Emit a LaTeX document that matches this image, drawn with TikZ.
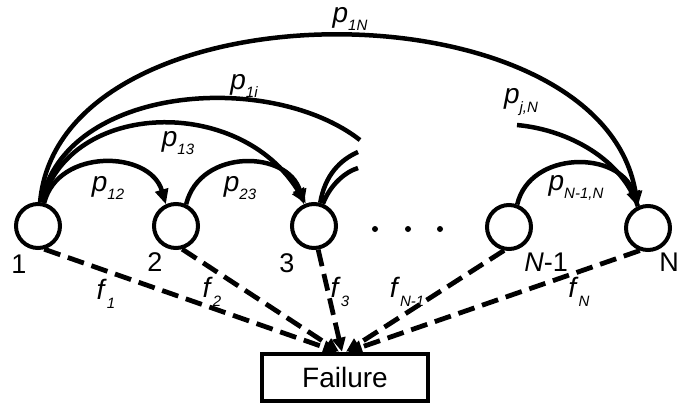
\documentclass[tikz,border=0pt]{standalone}
\usepackage{fontspec}
\setmainfont{Liberation Sans}
\usetikzlibrary{arrows.meta}
\newcommand\sublab[2]{\textit{#1}\raisebox{-0.3em}{\fontsize{15}{15}\selectfont\itshape #2}}
\begin{document}
\begin{tikzpicture}[x=1pt,y=-1pt,
  state/.style={circle,draw,line width=4pt,minimum size=44pt,inner sep=0pt},
  trans/.style={line width=4.5pt,-{Triangle[length=15pt,width=13pt]}},
  stub/.style={line width=4.5pt},
  failarrow/.style={line width=4.8pt,dash pattern=on 17pt off 8pt,-{Triangle[length=14pt,width=13pt]}},
  numlab/.style={font=\fontsize{27}{30}\selectfont,inner sep=0pt},
  plab/.style={font=\fontsize{28}{30}\selectfont,inner sep=0pt},
  failbox/.style={draw,line width=4.5pt,minimum width=166pt,minimum height=47pt,inner sep=0pt,font=\fontsize{28}{30}\selectfont},
  dot/.style={circle,fill,inner sep=0pt,minimum size=6pt}]
\useasboundingbox (0,0) rectangle (679,405);

% states
\node[state] (n1) at (38,226) {};
\node[state] (n2) at (176,226) {};
\node[state] (n3) at (314,226) {};
\node[state] (nN1) at (509,227) {};
\node[state] (nN) at (648,228) {};
\node[failbox] (fail) at (345,377.5) {Failure};

% state numbers
\node[numlab] (l1) at (19,264) {1};
\node[numlab] (l2) at (155,262) {2};
\node[numlab] (l3) at (287,263) {3};
\node[numlab] (lN1) at (546,262) {\textit{N}-1};
\node[numlab] (lN) at (669,262) {N};

% dots
\node[dot] (d1) at (375,229) {};
\node[dot] (d2) at (408,229) {};
\node[dot] (d3) at (440,229) {};

% free ends
\coordinate (e1i) at (360,140);
\coordinate (s3a) at (358,152);
\coordinate (s3b) at (358,168);
\coordinate (sjN) at (517,125);

% transitions
\draw[trans] (n1.75) .. controls (58,148) and (150,150) .. (n2.115);
\draw[trans] (n2.65) .. controls (200,148) and (288,150) .. (n3.115);
\draw[trans] (n1.80) .. controls (70,100) and (240,95) .. (n3.110);
\draw[stub] (n1.82) .. controls (65,85) and (270,70) .. (e1i);
\draw[trans] (n1.85) .. controls (60,-20) and (600,-20) .. (nN.115);
\draw[stub] (sjN) .. controls (570,130) and (622,160) .. (nN.115);
\draw[trans] (nN1.70) .. controls (530,150) and (620,150) .. (nN.115);
\draw[stub] (n3.75) .. controls (325,175) and (340,160) .. (s3a);
\draw[stub] (n3.68) .. controls (330,185) and (345,172) .. (s3b);

% failure transitions
\draw[failarrow] (n1.285) -- ([xshift=-8pt]fail.north);
\draw[failarrow] (n2.285) -- ([xshift=-6pt]fail.north);
\draw[failarrow] (n3.280) -- ([xshift=-3pt]fail.north);
\draw[failarrow] (nN1.258) -- ([xshift=1pt]fail.north);
\draw[failarrow] (nN.250) -- ([xshift=3pt]fail.north);

% labels
\node[plab] (p12) at (108,188) {\sublab{p}{12}};
\node[plab] (p23) at (240,188) {\sublab{p}{23}};
\node[plab] (p13) at (178,143) {\sublab{p}{13}};
\node[plab] (p1i) at (244,86) {\sublab{p}{1i}};
\node[plab] (p1N) at (350,19) {\sublab{p}{1N}};
\node[plab] (pjN) at (521,102) {\sublab{p}{j,N}};
\node[plab] (pN1N) at (576,188) {\sublab{p}{N-1,N}};
\node[plab] (f1) at (106,294) {\sublab{f}{1}};
\node[plab] (f2) at (212,292) {\sublab{f}{2}};
\node[plab] (f3) at (340,292) {\sublab{f}{3}};
\node[plab] (fN1) at (407,292) {\sublab{f}{N-1}};
\node[plab] (fN) at (579,292) {\sublab{f}{N}};
\end{tikzpicture}
\end{document}
